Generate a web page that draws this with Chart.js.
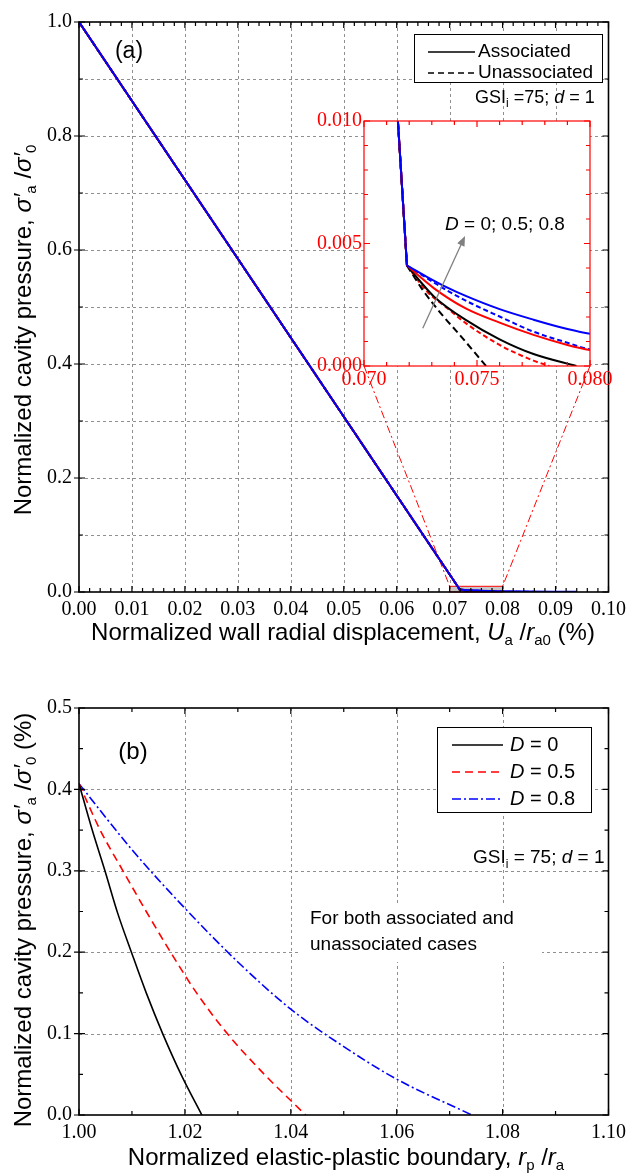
<!DOCTYPE html>
<html>
<head>
<meta charset="utf-8">
<script src="https://cdn.jsdelivr.net/npm/chart.js@4.4.1/dist/chart.umd.min.js"></script>
<style>
  body { margin: 0; background: #fff; }
  .panel { position: relative; width: 632px; }
  canvas { display: block; }
  #insetCanvas { position: absolute; left: 300px; top: 100px; }
</style>
</head>
<body>
<div class="panel" style="height:655px">
  <canvas id="chartA" width="632" height="655"></canvas>
  <canvas id="insetCanvas" width="332" height="300"></canvas>
</div>
<div class="panel" style="height:521px">
  <canvas id="chartB" width="632" height="521"></canvas>
</div>
<script>
// (a) normalized cavity pressure vs wall displacement (%), shared elastic branch
const elasticU = [0, 0.0715, 0.0719];
const elasticP = [1.0, 0.0100, 0.0041];

// plastic branches after the knee
const uAssocD0 = [0.0725, 0.0731, 0.0745, 0.0760, 0.0775, 0.0794];
const pAssocD0 = [0.00344, 0.00283, 0.00188, 0.00109, 0.00049, 0];
const uUnassocD0 = [0.0726, 0.0734, 0.0743, 0.0754];
const pUnassocD0 = [0.00310, 0.00215, 0.00120, 0];
const uAssocD05 = [0.0731, 0.0745, 0.0760, 0.0775, 0.0790, 0.0800, 0.0860];
const pAssocD05 = [0.00317, 0.00235, 0.00177, 0.00127, 0.00086, 0.00065, 0];
const uUnassocD05 = [0.0728, 0.0737, 0.0745, 0.0760, 0.0775, 0.0782];
const pUnassocD05 = [0.00303, 0.00235, 0.00175, 0.00086, 0.00022, 0];
const uAssocD08 = [0.0728, 0.0736, 0.0745, 0.0760, 0.0775, 0.0790, 0.0800, 0.0940];
const pAssocD08 = [0.00363, 0.00324, 0.00286, 0.00232, 0.00189, 0.00151, 0.00132, 0.0003];
const uUnassocD08 = [0.0737, 0.0748, 0.0760, 0.0775, 0.0790, 0.0800, 0.0942];
const pUnassocD08 = [0.00307, 0.00253, 0.00202, 0.00140, 0.00095, 0.00068, 0];

// (b) cavity pressure (%) vs elastic-plastic boundary rp/ra
const rpD0 = [1.0, 1.0025, 1.0049, 1.0073, 1.0099, 1.0127, 1.0158, 1.0194, 1.0232];
const saD0 = [0.407, 0.350, 0.30, 0.248, 0.20, 0.150, 0.10, 0.048, 0];
const rpD05 = [1.0, 1.0040, 1.0083, 1.0127, 1.0173, 1.0222, 1.0280, 1.0350, 1.0428];
const saD05 = [0.407, 0.350, 0.30, 0.250, 0.20, 0.15, 0.10, 0.05, 0];
const rpD08 = [1.0, 1.010, 1.020, 1.030, 1.040, 1.050, 1.060, 1.0742];
const saD08 = [0.407, 0.326, 0.254, 0.188, 0.130, 0.084, 0.044, 0];

const legendA = ['Associated', 'Unassociated'];
const legendB = ['0', '0.5', '0.8'];

const SANS = '"Liberation Sans", Arial, sans-serif';
const SERIF = '"Liberation Serif", "Times New Roman", serif';
const BLUE = '#0000ff', RED = '#ff0000', BLACK = '#000000';

function pts(xs, ys) { return xs.map((x, i) => ({ x: x, y: ys[i] })); }

// solids first, dashed on top
const curvesA = [
  { u: uAssocD08, p: pAssocD08, color: BLUE, dash: [] },
  { u: uAssocD05, p: pAssocD05, color: RED, dash: [] },
  { u: uAssocD0, p: pAssocD0, color: BLACK, dash: [] },
  { u: uUnassocD0, p: pUnassocD0, color: BLACK, dash: [7, 4] },
  { u: uUnassocD05, p: pUnassocD05, color: RED, dash: [5, 3] },
  { u: uUnassocD08, p: pUnassocD08, color: BLUE, dash: [5, 3] }
];

// each curve = straight elastic part + smooth plastic part from the knee
function lineSets(width) {
  const kneeU = elasticU[elasticU.length - 1], kneeP = elasticP[elasticP.length - 1];
  const base = c => ({ borderColor: c.color, borderWidth: width, borderDash: c.dash, pointRadius: 0, fill: false });
  const elastic = curvesA.map(c => Object.assign(base(c), { data: pts(elasticU, elasticP), tension: 0 }));
  const plastic = curvesA.map(c => Object.assign(base(c), {
    data: pts([kneeU].concat(c.u), [kneeP].concat(c.p)),
    cubicInterpolationMode: 'monotone'
  }));
  return elastic.concat(plastic);
}

function fontOf(p, size) {
  const s = p.sub ? Math.round(size * 0.64) : size;
  return (p.i ? 'italic ' : '') + s + 'px ' + SANS;
}

// text with italic / subscript runs
function drawRich(ctx, parts, x, y, size, align, angle) {
  ctx.save();
  ctx.translate(x, y);
  if (angle) ctx.rotate(angle);
  let total = 0;
  parts.forEach(p => { ctx.font = fontOf(p, size); total += ctx.measureText(p.t).width; });
  let cx = align === 'center' ? -total / 2 : (align === 'right' ? -total : 0);
  ctx.textBaseline = 'middle';
  ctx.textAlign = 'left';
  parts.forEach(p => {
    ctx.font = fontOf(p, size);
    ctx.fillStyle = p.color || '#000';
    ctx.fillText(p.t, cx, p.sub ? size * 0.33 : 0);
    cx += ctx.measureText(p.t).width;
  });
  ctx.restore();
}

function marks(scale, step, per) {
  const out = [];
  const n = Math.round((scale.max - scale.min) / step);
  for (let i = 0; i <= n; i++) out.push([scale.min + i * step, i % per === 0]);
  return out;
}

// grid, box frame and inward ticks on all four sides
const framePlugin = {
  id: 'frame',
  beforeDatasetsDraw(chart, args, o) {
    const { ctx, chartArea: a, scales } = chart;
    ctx.save();
    if (o.fill) {
      ctx.fillStyle = o.fill;
      ctx.fillRect(a.left, a.top, a.right - a.left, a.bottom - a.top);
    }
    if (o.gridX) {
      ctx.strokeStyle = '#8f8f8f';
      ctx.lineWidth = 1;
      ctx.setLineDash([3, 3]);
      ctx.beginPath();
      o.gridX.forEach(v => {
        const px = Math.round(scales.x.getPixelForValue(v)) + 0.5;
        ctx.moveTo(px, a.top); ctx.lineTo(px, a.bottom);
      });
      o.gridY.forEach(v => {
        const py = Math.round(scales.y.getPixelForValue(v)) + 0.5;
        ctx.moveTo(a.left, py); ctx.lineTo(a.right, py);
      });
      ctx.stroke();
    }
    ctx.restore();
  },
  afterDatasetsDraw(chart, args, o) {
    const { ctx, chartArea: a, scales: { x, y } } = chart;
    ctx.save();
    ctx.strokeStyle = o.color;
    ctx.lineWidth = o.width;
    ctx.strokeRect(a.left, a.top, a.right - a.left, a.bottom - a.top);
    ctx.lineWidth = 1.2;
    ctx.beginPath();
    marks(x, o.xStep, o.xPer).forEach(([v, major]) => {
      const px = x.getPixelForValue(v), len = major ? 6 : 4;
      ctx.moveTo(px, a.bottom); ctx.lineTo(px, a.bottom - len);
      ctx.moveTo(px, a.top); ctx.lineTo(px, a.top + len);
    });
    marks(y, o.yStep, o.yPer).forEach(([v, major]) => {
      const py = y.getPixelForValue(v), len = major ? 6 : 4;
      ctx.moveTo(a.left - (major && o.majorOut ? 5 : 0), py); ctx.lineTo(a.left + len, py);
      ctx.moveTo(a.right, py); ctx.lineTo(a.right - len, py);
    });
    ctx.stroke();
    ctx.restore();
  }
};

function scaleOpts(min, max, step, digits, color, pad, fit, isX) {
  return {
    type: 'linear', min: min, max: max,
    grid: { display: false, drawTicks: false },
    border: { display: false },
    ticks: {
      stepSize: step, padding: pad, color: color, autoSkip: false, maxRotation: 0,
      font: { family: SERIF, size: 20 },
      callback: v => v.toFixed(digits)
    },
    afterFit: isX ? (s => { s.height = fit; }) : (s => { s.width = fit; })
  };
}

// ---------- inset: zoom on the knee ----------
const insetLeft = 300, insetTop = 100;
const arrowFrom = [0.0726, 0.00154], arrowTo = [0.07447, 0.00531];

const insetDecor = {
  id: 'insetDecor',
  afterDatasetsDraw(chart) {
    const { ctx, scales: { x, y } } = chart;
    const x0 = x.getPixelForValue(arrowFrom[0]), y0 = y.getPixelForValue(arrowFrom[1]);
    const x1 = x.getPixelForValue(arrowTo[0]), y1 = y.getPixelForValue(arrowTo[1]);
    const ang = Math.atan2(y1 - y0, x1 - x0);
    ctx.save();
    ctx.strokeStyle = '#808080'; ctx.fillStyle = '#808080'; ctx.lineWidth = 1.3;
    ctx.beginPath(); ctx.moveTo(x0, y0);
    ctx.lineTo(x1 - 8 * Math.cos(ang), y1 - 8 * Math.sin(ang)); ctx.stroke();
    ctx.beginPath();
    ctx.moveTo(x1, y1);
    ctx.lineTo(x1 - 10 * Math.cos(ang) + 4 * Math.sin(ang), y1 - 10 * Math.sin(ang) - 4 * Math.cos(ang));
    ctx.lineTo(x1 - 10 * Math.cos(ang) - 4 * Math.sin(ang), y1 - 10 * Math.sin(ang) + 4 * Math.cos(ang));
    ctx.closePath(); ctx.fill();
    ctx.restore();
    drawRich(ctx, [{ t: 'D', i: true }, { t: ' = 0; 0.5; 0.8' }], 205, 125, 19, 'center');
  }
};

const inset = new Chart(document.getElementById('insetCanvas'), {
  type: 'line',
  data: { datasets: lineSets(2) },
  options: {
    responsive: false, animation: false, devicePixelRatio: 1,
    layout: { padding: { top: 21, right: 42, left: 0, bottom: 0 } },
    plugins: {
      legend: { display: false }, tooltip: { enabled: false },
      frame: { fill: '#ffffff', color: RED, width: 1.2, xStep: 0.001, xPer: 5, yStep: 0.001, yPer: 5 }
    },
    scales: {
      x: scaleOpts(0.070, 0.080, 0.005, 3, RED, 2, 34, true),
      y: scaleOpts(0, 0.010, 0.005, 3, RED, 2, 64, false)
    }
  },
  plugins: [framePlugin, insetDecor]
});

// ---------- panel (a) ----------
const gridA_x = [0.01, 0.02, 0.03, 0.04, 0.05, 0.06, 0.07, 0.08, 0.09];
const gridA_y = [0.1, 0.2, 0.3, 0.4, 0.5, 0.6, 0.7, 0.8, 0.9];

const decorA = {
  id: 'decorA',
  beforeDatasetsDraw(chart) {
    const { ctx, scales: { x, y } } = chart;
    const zx = inset.scales.x, zy = inset.scales.y;
    const l = x.getPixelForValue(zx.min), r = x.getPixelForValue(zx.max);
    const t = y.getPixelForValue(zy.max), b = y.getPixelForValue(zy.min);
    ctx.save();
    ctx.fillStyle = 'rgba(128,128,128,0.45)';
    ctx.fillRect(l, t, r - l, b - t);
    ctx.strokeStyle = RED; ctx.lineWidth = 1;
    ctx.strokeRect(l, t, r - l, b - t);
    const ia = inset.chartArea;
    ctx.setLineDash([8, 3, 2, 3]);
    ctx.beginPath();
    ctx.moveTo(insetLeft + ia.left, insetTop + ia.bottom); ctx.lineTo(l, t);
    ctx.moveTo(insetLeft + ia.right, insetTop + ia.bottom); ctx.lineTo(r, t);
    ctx.stroke();
    ctx.restore();
  },
  afterDraw(chart) {
    const ctx = chart.ctx;
    ctx.save();
    ctx.fillStyle = '#fff'; ctx.strokeStyle = '#000'; ctx.lineWidth = 1;
    ctx.fillRect(414.5, 34.5, 188, 48); ctx.strokeRect(414.5, 34.5, 188, 48);
    ctx.lineWidth = 1.6;
    [[], [6, 4]].forEach((d, i) => {
      ctx.setLineDash(d);
      ctx.beginPath(); ctx.moveTo(428, 52 + i * 21); ctx.lineTo(475, 52 + i * 21); ctx.stroke();
    });
    ctx.restore();
    legendA.forEach((s, i) => drawRich(ctx, [{ t: s }], 478, 52 + i * 21, 19, 'left'));
    drawRich(ctx, [{ t: '(a)' }], 129, 52, 23, 'center');
    drawRich(ctx, [{ t: 'GSI' }, { t: 'i', sub: true }, { t: ' =75; ' }, { t: 'd', i: true }, { t: ' = 1' }], 475, 98, 18, 'left');
    drawRich(ctx, [{ t: 'Normalized wall radial displacement, ' }, { t: 'U', i: true }, { t: 'a', sub: true },
      { t: ' /' }, { t: 'r', i: true }, { t: 'a0', sub: true }, { t: ' (%)' }], 343, 633, 24, 'center');
    drawRich(ctx, [{ t: 'Normalized cavity pressure, ' }, { t: 'σ′', i: true }, { t: 'a', sub: true },
      { t: ' /' }, { t: 'σ′', i: true }, { t: '0', sub: true }], 24, 330, 24, 'center', -Math.PI / 2);
  }
};

const chartA = new Chart(document.getElementById('chartA'), {
  type: 'line',
  data: { datasets: lineSets(2) },
  options: {
    responsive: false, animation: false, devicePixelRatio: 1,
    layout: { padding: { top: 22, right: 18, left: 0, bottom: 0 } },
    plugins: {
      legend: { display: false }, tooltip: { enabled: false },
      frame: { gridX: gridA_x, gridY: gridA_y, color: BLACK, width: 1.6,
        xStep: 0.002, xPer: 5, yStep: 0.1, yPer: 2, majorOut: true }
    },
    scales: {
      x: scaleOpts(0, 0.1, 0.01, 2, BLACK, 6, 63, true),
      y: scaleOpts(0, 1.0, 0.2, 1, BLACK, 7, 79, false)
    }
  },
  plugins: [framePlugin, decorA]
});

// ---------- panel (b) ----------
const gridB_x = [1.02, 1.04, 1.06, 1.08];
const gridB_y = [0.1, 0.2, 0.3, 0.4];

const setsB = [
  { data: pts(rpD0, saD0), borderColor: BLACK, borderDash: [] },
  { data: pts(rpD05, saD05), borderColor: RED, borderDash: [8, 5] },
  { data: pts(rpD08, saD08), borderColor: BLUE, borderDash: [9, 3, 2, 3] }
].map(s => Object.assign(s, { borderWidth: 1.6, pointRadius: 0, fill: false, cubicInterpolationMode: 'monotone' }));

const decorB = {
  id: 'decorB',
  beforeDatasetsDraw(chart) {
    const ctx = chart.ctx;
    ctx.save();
    ctx.fillStyle = '#fff';
    ctx.fillRect(300, 250, 242, 57);
    ctx.fillRect(437.5, 72.5, 154, 85);
    ctx.strokeStyle = '#000'; ctx.lineWidth = 1;
    ctx.strokeRect(437.5, 72.5, 154, 85);
    ctx.restore();
    drawRich(ctx, [{ t: 'For both associated and' }], 310, 264, 19, 'left');
    drawRich(ctx, [{ t: 'unassociated cases' }], 310, 290, 19, 'left');
  },
  afterDraw(chart) {
    const ctx = chart.ctx;
    ctx.save();
    ctx.lineWidth = 1.6;
    setsB.forEach((s, i) => {
      ctx.strokeStyle = s.borderColor; ctx.setLineDash(s.borderDash);
      ctx.beginPath(); ctx.moveTo(452, 90 + i * 27); ctx.lineTo(503, 90 + i * 27); ctx.stroke();
    });
    ctx.restore();
    legendB.forEach((s, i) => drawRich(ctx, [{ t: 'D', i: true }, { t: ' = ' + s }], 510, 90 + i * 27, 20, 'left'));
    drawRich(ctx, [{ t: '(b)' }], 133, 97, 24, 'center');
    drawRich(ctx, [{ t: 'GSI' }, { t: 'i', sub: true }, { t: ' = 75; ' }, { t: 'd', i: true }, { t: ' = 1' }], 473, 203, 19, 'left');
    drawRich(ctx, [{ t: 'Normalized elastic-plastic boundary, ' }, { t: 'r', i: true }, { t: 'p', sub: true },
      { t: ' /' }, { t: 'r', i: true }, { t: 'a', sub: true }], 346, 503, 24, 'center');
    drawRich(ctx, [{ t: 'Normalized cavity pressure, ' }, { t: 'σ′', i: true }, { t: 'a', sub: true },
      { t: ' /' }, { t: 'σ′', i: true }, { t: '0', sub: true }, { t: ' (%)' }], 24, 265, 24, 'center', -Math.PI / 2);
  }
};

const chartB = new Chart(document.getElementById('chartB'), {
  type: 'line',
  data: { datasets: setsB },
  options: {
    responsive: false, animation: false, devicePixelRatio: 1,
    layout: { padding: { top: 53, right: 18, left: 0, bottom: 0 } },
    plugins: {
      legend: { display: false }, tooltip: { enabled: false },
      frame: { gridX: gridB_x, gridY: gridB_y, color: BLACK, width: 1.6,
        xStep: 0.01, xPer: 2, yStep: 0.05, yPer: 2, majorOut: true }
    },
    scales: {
      x: scaleOpts(1.0, 1.1, 0.02, 2, BLACK, 6, 61, true),
      y: scaleOpts(0, 0.5, 0.1, 1, BLACK, 7, 79, false)
    }
  },
  plugins: [framePlugin, decorB]
});
</script>
</body>
</html>
